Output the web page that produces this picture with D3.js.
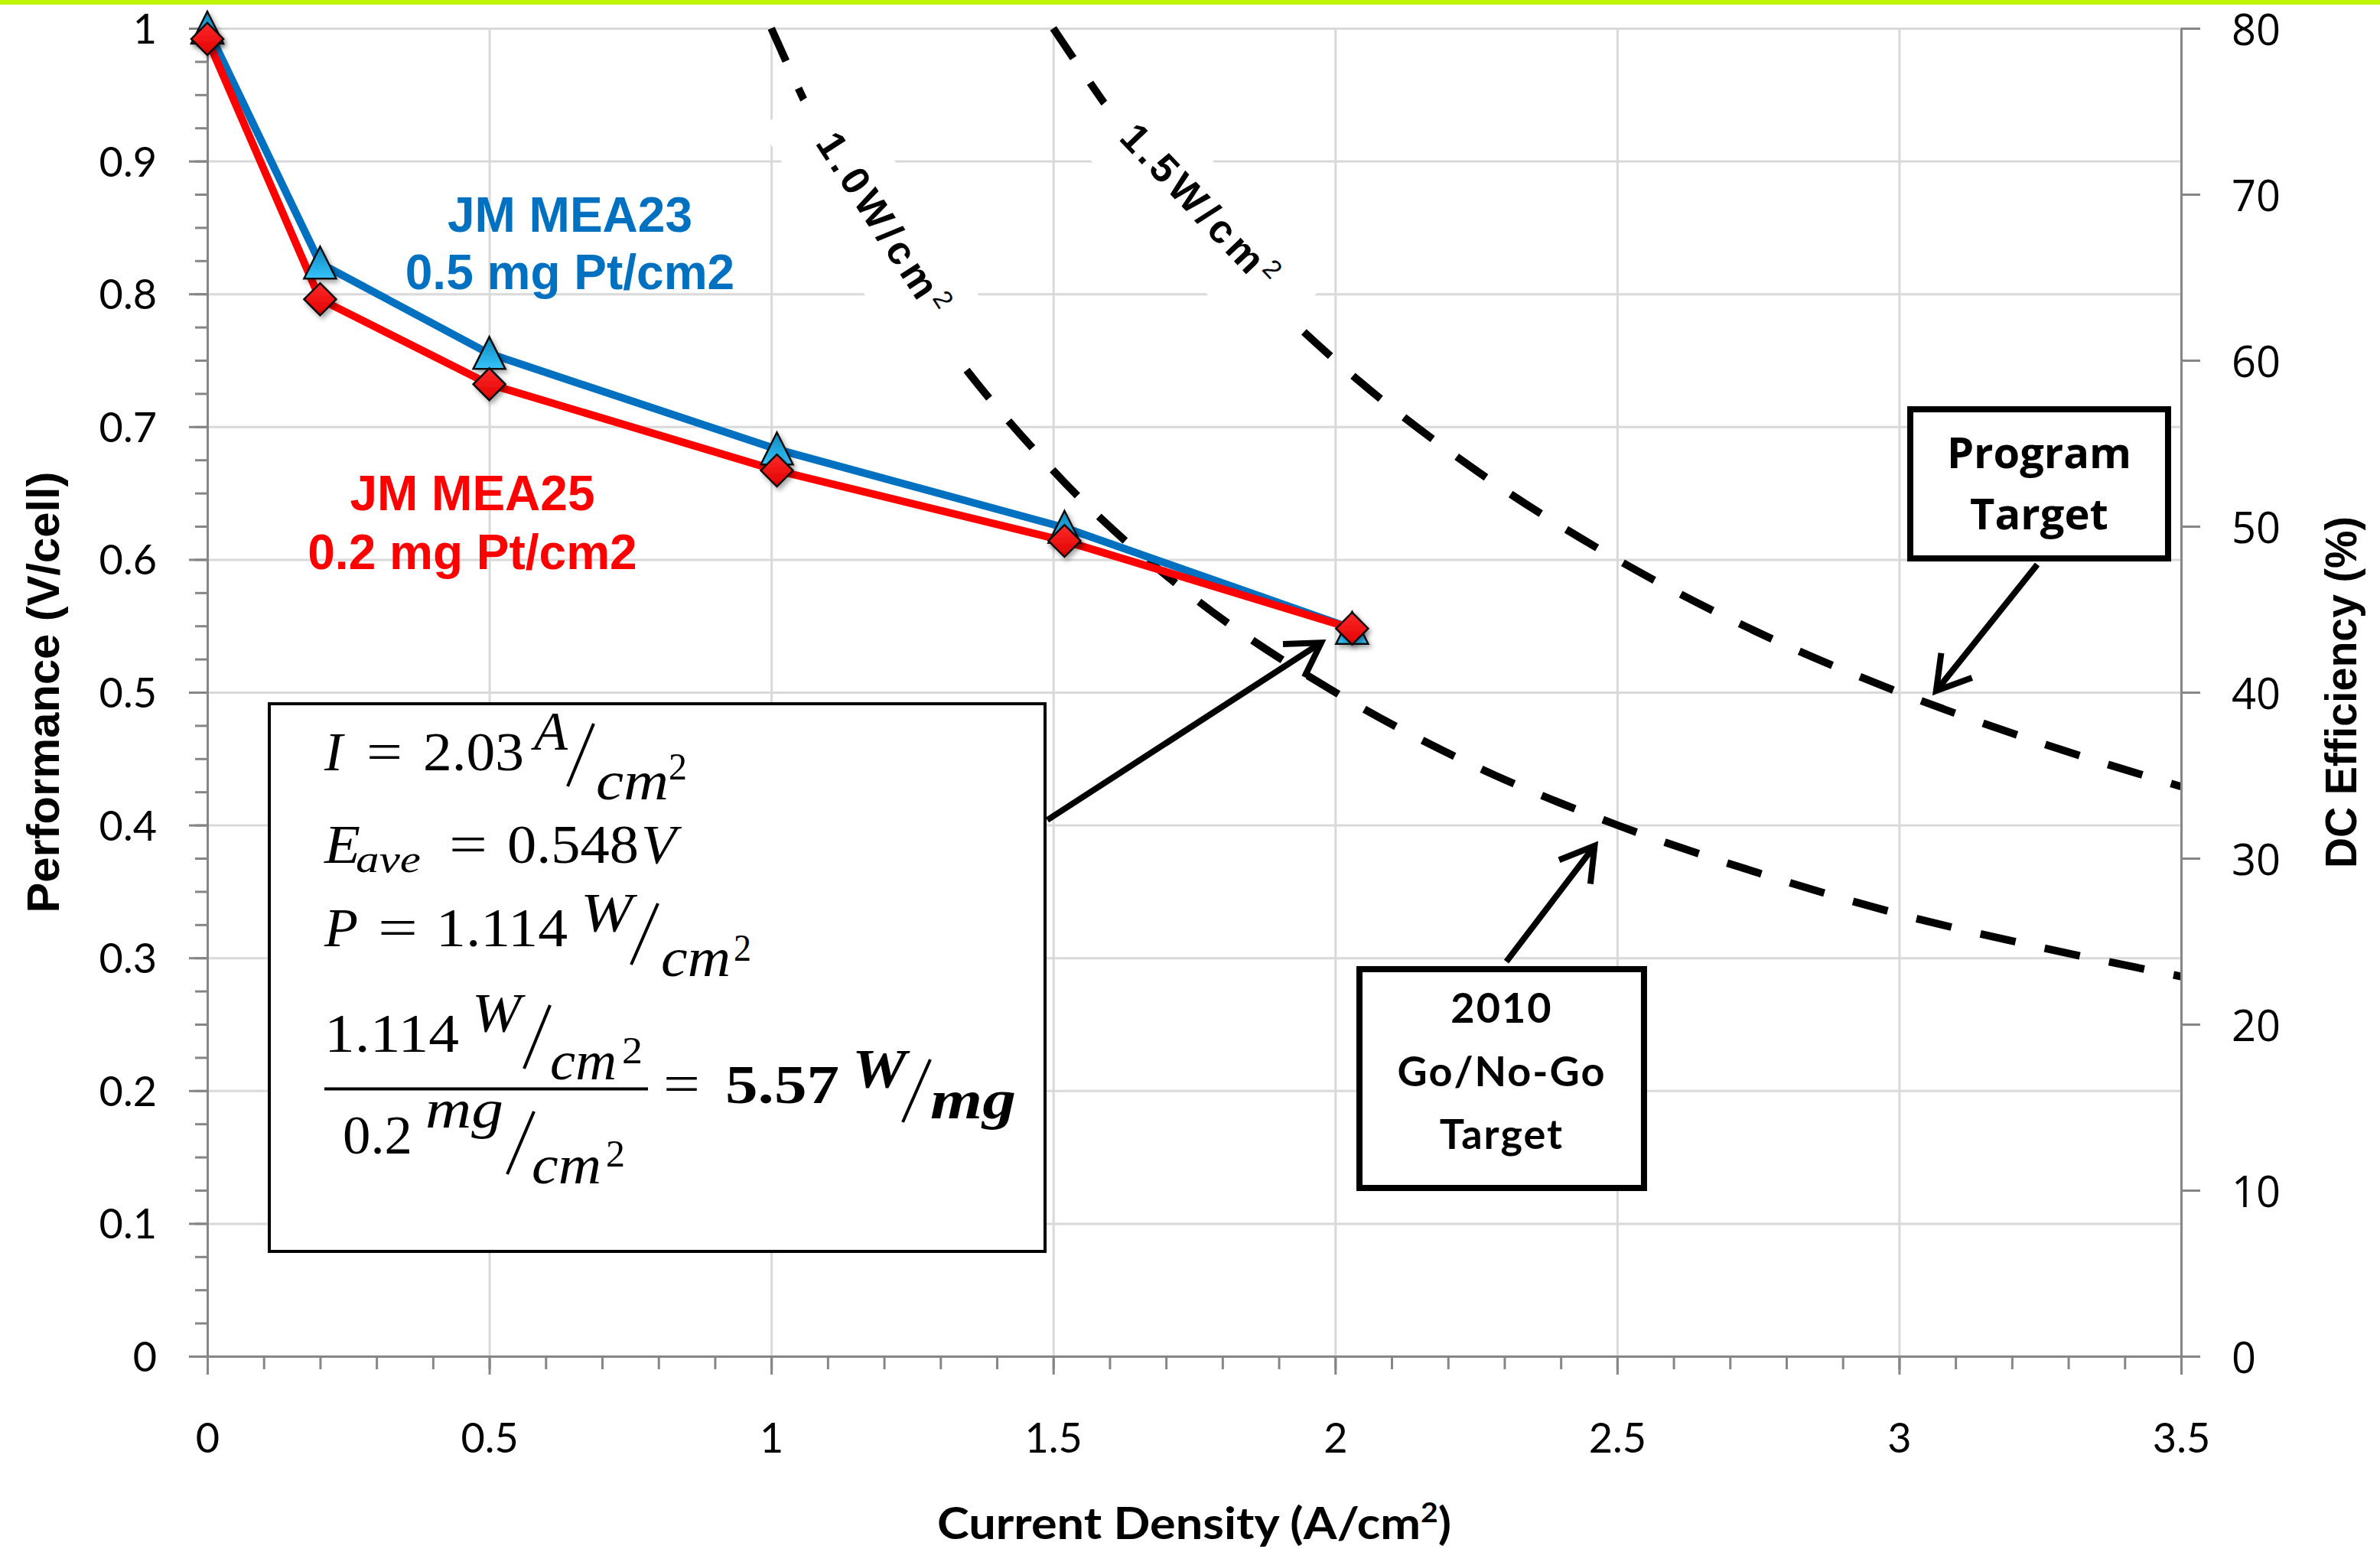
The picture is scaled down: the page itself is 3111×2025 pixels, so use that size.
<!DOCTYPE html>
<html>
<head>
<meta charset="utf-8">
<script src="https://cdn.jsdelivr.net/npm/d3@7"></script>
<style>
  html, body { margin: 0; padding: 0; background: #fff; }
  svg { display: block; }
</style>
</head>
<body>
<div id="chart"></div>
<script>
//** values
const currentDensity = [0, 0.2, 0.5, 1.01, 1.52, 2.03];
const voltsMEA23 = [1.0, 0.823, 0.755, 0.683, 0.624, 0.548];
const voltsMEA25 = [0.992, 0.796, 0.732, 0.667, 0.614, 0.548];

//** constant power lines (dashed)
const current10 = [1.0, 1.1, 1.25, 1.5, 1.75, 2.0, 2.25, 2.5, 2.75, 3.0, 3.25, 3.5];
const volts10 = [1.0, 0.909, 0.8, 0.667, 0.571, 0.5, 0.444, 0.4, 0.364, 0.333, 0.308, 0.286];
const current15 = [1.5, 1.65, 1.8, 2.0, 2.25, 2.5, 2.75, 3.0, 3.25, 3.5];
const volts15 = [1.0, 0.909, 0.833, 0.75, 0.667, 0.6, 0.545, 0.5, 0.462, 0.429];

//** ticks
const xTicks = [0, 0.5, 1, 1.5, 2, 2.5, 3, 3.5];
const yTicks = [0, 0.1, 0.2, 0.3, 0.4, 0.5, 0.6, 0.7, 0.8, 0.9, 1];
const efficiencyTicks = [0, 10, 20, 30, 40, 50, 60, 70, 80];

class PolarizationChart {
  constructor(settings) {
    this.ss = {};
    for (let m in settings) {
      this.ss[m] = settings[m];
    }
    this.w = this.ss.width - this.ss.margins.left - this.ss.margins.right;
    this.h = this.ss.height - this.ss.margins.top - this.ss.margins.bottom;
    this.createMainG();
    this.createDefs();
    this.createScales();
    this.createGrid();
    this.renderPowerLines();
    this.createAxis();
    this.renderSeries();
    this.renderNotes();
    this.renderTitles();
  }

  //** main container
  createMainG() {
    this.svg = d3.select(this.ss.node).append('svg')
      .attr('width', this.ss.width)
      .attr('height', this.ss.height);
    this.svg.append('rect')
      .attr('width', this.ss.width)
      .attr('height', this.ss.height)
      .attr('fill', '#fff');
    this.svg.append('rect')
      .attr('width', this.ss.width)
      .attr('height', 6)
      .attr('fill', '#bff500');
    this.g = this.svg.append('g')
      .attr('transform', 'translate(' + this.ss.margins.left + ',' + this.ss.margins.top + ')');
  }

  createDefs() {
    let defs = this.svg.append('defs');
    let tri = defs.append('linearGradient').attr('id', 'gradTri')
      .attr('x1', 0).attr('y1', 0).attr('x2', 0).attr('y2', 1);
    tri.append('stop').attr('offset', '0%').attr('stop-color', '#0b86bd');
    tri.append('stop').attr('offset', '100%').attr('stop-color', '#36c3fb');
    let dia = defs.append('linearGradient').attr('id', 'gradDia')
      .attr('x1', 0).attr('y1', 0).attr('x2', 0).attr('y2', 1);
    dia.append('stop').attr('offset', '0%').attr('stop-color', '#ff2a2a');
    dia.append('stop').attr('offset', '100%').attr('stop-color', '#e00000');
    let shadow = defs.append('filter').attr('id', 'shadow')
      .attr('x', '-50%').attr('y', '-50%').attr('width', '200%').attr('height', '200%');
    shadow.append('feDropShadow')
      .attr('dx', 3).attr('dy', 4).attr('stdDeviation', 3)
      .attr('flood-color', '#000').attr('flood-opacity', 0.35);
  }

  createScales() {
    this.x = d3.scaleLinear().domain([0, 3.5]).range([0, this.w]);
    this.y = d3.scaleLinear().domain([0, 1]).range([this.h, 0]);
    this.y2 = d3.scaleLinear().domain([0, 80]).range([this.h, 0]);
  }

  //** gridlines
  createGrid() {
    let gx = this.g.append('g')
      .attr('transform', 'translate(0,' + this.h + ')')
      .call(d3.axisBottom(this.x).tickValues(xTicks.slice(1)).tickSize(-this.h).tickFormat(''));
    let gy = this.g.append('g')
      .call(d3.axisLeft(this.y).tickValues(yTicks.slice(1)).tickSize(-this.w).tickFormat(''));
    [gx, gy].forEach(a => {
      a.select('.domain').remove();
      a.selectAll('line').attr('stroke', '#d9d9d9').attr('stroke-width', 3);
    });
  }

  renderPowerLines() {
    let line = d3.line()
      .x(d => this.x(d[0]))
      .y(d => this.y(d[1]))
      .curve(d3.curveMonotoneX);
    let curves = [d3.zip(current10, volts10), d3.zip(current15, volts15)];
    this.g.append('g').selectAll('path')
      .data(curves)
      .join('path')
      .attr('d', line)
      .attr('fill', 'none')
      .attr('stroke', '#000')
      .attr('stroke-width', 10)
      .attr('stroke-dasharray', '47 39');

    //** labels sitting on the curves, on white boxes
    let labels = [
      {num: '1.0W/cm', i: 1.2006, v: 0.852, rot: 57, bi: 1.1924, bv: 0.8497, brot: 58, len: 390, thick: 126},
      {num: '1.5W/cm', i: 1.7622, v: 0.8658, rot: 46.5, bi: 1.7527, bv: 0.8623, brot: 49, len: 370, thick: 120}
    ];
    let lg = this.g.append('g');
    labels.forEach(l => {
      lg.append('rect')
        .attr('x', -l.len / 2).attr('y', -l.thick / 2)
        .attr('width', l.len).attr('height', l.thick)
        .attr('fill', '#fff')
        .attr('transform', 'translate(' + this.x(l.bi) + ',' + this.y(l.bv) + ') rotate(' + l.brot + ')');
      let t = lg.append('text')
        .attr('transform', 'translate(' + this.x(l.i) + ',' + this.y(l.v) + ') rotate(' + l.rot + ')')
        .attr('text-anchor', 'middle')
        .attr('dy', '0.35em')
        .attr('font-family', "'Liberation Sans', Arial, sans-serif")
        .attr('font-weight', 'bold')
        .attr('font-size', 52)
        .attr('letter-spacing', 6)
        .attr('fill', '#000')
        .text(l.num);
      t.append('tspan').attr('font-size', 34).attr('font-weight', 'normal').attr('dy', -18).text('2');
    });
  }

  //** axes
  createAxis() {
    let axisColor = '#868686';
    let left = this.g.append('g')
      .call(d3.axisLeft(this.y).tickValues(yTicks).tickSize(24).tickSizeOuter(0).tickPadding(42)
        .tickFormat(d => String(+d.toFixed(1))));
    let leftMinor = this.g.append('g')
      .call(d3.axisLeft(this.y).tickValues(d3.range(0, 1.0001, 0.025)).tickSize(16).tickSizeOuter(0).tickFormat(''));
    let bottom = this.g.append('g')
      .attr('transform', 'translate(0,' + this.h + ')')
      .call(d3.axisBottom(this.x).tickValues(xTicks).tickSize(24).tickSizeOuter(0).tickPadding(64)
        .tickFormat(d => String(d)));
    let bottomMinor = this.g.append('g')
      .attr('transform', 'translate(0,' + this.h + ')')
      .call(d3.axisBottom(this.x).tickValues(d3.range(0, 3.5001, 0.1)).tickSize(17).tickSizeOuter(0).tickFormat(''));
    let right = this.g.append('g')
      .attr('transform', 'translate(' + this.w + ',0)')
      .call(d3.axisRight(this.y2).tickValues(efficiencyTicks).tickSize(25).tickSizeOuter(0).tickPadding(41));

    [left, leftMinor, bottom, bottomMinor, right].forEach(a => {
      a.select('.domain').attr('stroke', axisColor).attr('stroke-width', 3);
      a.selectAll('.tick line').attr('stroke', axisColor).attr('stroke-width', 3);
    });
    [left, bottom].forEach(a => {
      a.selectAll('text')
        .attr('font-family', "Lato, 'Liberation Sans', sans-serif")
        .attr('font-size', 54)
        .attr('fill', '#000');
    });
    left.selectAll('text').attr('dy', '0.36em');
    right.selectAll('text')
      .attr('font-family', "'Open Sans', sans-serif")
      .attr('font-size', 56)
      .attr('dy', '0.38em')
      .attr('fill', '#000');
  }

  //** the two MEA series
  renderSeries() {
    let tri = 'M0,-22L21,20L-21,20Z';
    let dia = 'M0,-21L21,0L0,21L-21,0Z';
    let series = [
      {volts: voltsMEA23, color: '#0070c0', fill: 'url(#gradTri)', shape: tri},
      {volts: voltsMEA25, color: '#ff0000', fill: 'url(#gradDia)', shape: dia}
    ];
    let line = d3.line()
      .x(d => this.x(d[0]))
      .y(d => this.y(d[1]));
    series.forEach(s => {
      this.g.append('path')
        .attr('d', line(d3.zip(currentDensity, s.volts)))
        .attr('fill', 'none')
        .attr('stroke', s.color)
        .attr('stroke-width', 10)
        .attr('stroke-linejoin', 'round');
    });
    series.forEach(s => {
      this.g.append('g').selectAll('path')
        .data(d3.zip(currentDensity, s.volts))
        .join('path')
        .attr('d', s.shape)
        .attr('transform', d => 'translate(' + this.x(d[0]) + ',' + this.y(d[1]) + ')')
        .attr('fill', s.fill)
        .attr('stroke', '#111')
        .attr('stroke-width', 2.5)
        .attr('stroke-linejoin', 'miter')
        .attr('filter', 'url(#shadow)');
    });
  }

  drawArrow(from, to) {
    let x1 = this.x(from[0]), y1 = this.y(from[1]);
    let x2 = this.x(to[0]), y2 = this.y(to[1]);
    let a = Math.atan2(y2 - y1, x2 - x1);
    let tx = x2 - 6 * Math.cos(a), ty = y2 - 6 * Math.sin(a);
    let arm = 50, spread = 31 * Math.PI / 180;
    let p1 = [tx - arm * Math.cos(a - spread), ty - arm * Math.sin(a - spread)];
    let p2 = [tx - arm * Math.cos(a + spread), ty - arm * Math.sin(a + spread)];
    this.g.append('line')
      .attr('x1', x1).attr('y1', y1).attr('x2', tx).attr('y2', ty)
      .attr('stroke', '#000').attr('stroke-width', 8);
    this.g.append('path')
      .attr('d', 'M' + p1 + 'L' + tx + ',' + ty + 'L' + p2)
      .attr('fill', 'none').attr('stroke', '#000').attr('stroke-width', 8)
      .attr('stroke-linejoin', 'miter');
  }

  drawBox(i0, v0, i1, v1, stroke) {
    let x0 = this.x(i0), y0 = this.y(v0), x1 = this.x(i1), y1 = this.y(v1);
    this.g.append('rect')
      .attr('x', x0 + stroke / 2).attr('y', y0 + stroke / 2)
      .attr('width', x1 - x0 - stroke).attr('height', y1 - y0 - stroke)
      .attr('fill', '#fff').attr('stroke', '#000').attr('stroke-width', stroke);
    return {x: x0, y: y0, cx: (x0 + x1) / 2};
  }

  //** text notes, boxes and arrows
  renderNotes() {
    let sans = "'Liberation Sans', Arial, sans-serif";
    let seriesNotes = [
      {lines: ['JM MEA23', '0.5 mg Pt/cm2'], i: 0.643, v: [0.847, 0.8036], color: '#0070c0'},
      {lines: ['JM MEA25', '0.2 mg Pt/cm2'], i: 0.470, v: [0.637, 0.593], color: '#ff0000'}
    ];
    seriesNotes.forEach(n => {
      n.lines.forEach((t, k) => {
        this.g.append('text')
          .attr('x', this.x(n.i)).attr('y', this.y(n.v[k]))
          .attr('text-anchor', 'middle')
          .attr('font-family', sans).attr('font-weight', 'bold').attr('font-size', 64)
          .attr('fill', n.color)
          .text(t);
      });
    });

    //** arrows
    this.drawArrow([1.4895, 0.4038], [1.982, 0.5392]);
    this.drawArrow([2.3035, 0.2972], [2.465, 0.3871]);
    this.drawArrow([3.245, 0.5962], [3.0605, 0.4983]);

    //** formula box
    let fb = this.drawBox(0.1072, 0.4925, 1.4882, 0.0778, 4);
    let fg = this.g.append('g').attr('transform', 'translate(' + fb.x + ',' + fb.y + ')');
    let pieces = [
      ['I', 74, 89, 72, 'i', 24], ['=', 129, 89, 72, '', 47], ['2.03', 203, 89, 72, '', 132],
      ['A', 348, 62, 72, 'i', 44], ['cm', 429, 127, 72, 'i', 95], ['2', 524, 101, 50, '', 24],
      ['E', 74, 210, 72, 'i', 47], ['ave', 115, 222, 50, 'i', 85], ['=', 237, 210, 72, '', 50],
      ['0.548', 313, 210, 72, '', 172], ['V', 488, 210, 72, 'i', 46],
      ['P', 74, 319, 72, 'i', 44], ['=', 144, 319, 72, '', 52], ['1.114', 220, 319, 72, '', 172],
      ['W', 409, 299, 72, 'i', 68], ['cm', 514, 358, 72, 'i', 91], ['2', 609, 338, 50, '', 23],
      ['1.114', 74, 457, 72, '', 176], ['W', 267, 430, 72, 'i', 64], ['cm', 369, 493, 72, 'i', 87],
      ['2', 463, 472, 50, '', 27],
      ['0.2', 98, 590, 72, '', 91], ['mg', 206, 556, 72, 'i', 102], ['cm', 345, 629, 72, 'i', 91],
      ['2', 442, 607, 50, '', 25],
      ['=', 517, 523, 72, '', 48], ['5.57', 598, 524, 72, 'b', 149],
      ['W', 764, 503, 72, 'bi', 71], ['mg', 866, 544, 72, 'bi', 112]
    ];
    pieces.forEach(p => {
      fg.append('text')
        .attr('x', p[1]).attr('y', p[2])
        .attr('font-family', "'Liberation Serif', 'DejaVu Serif', serif")
        .attr('font-size', p[3])
        .attr('font-style', p[4].indexOf('i') >= 0 ? 'italic' : 'normal')
        .attr('font-weight', p[4].indexOf('b') >= 0 ? 'bold' : 'normal')
        .attr('textLength', p[5])
        .attr('lengthAdjust', 'spacingAndGlyphs')
        .attr('fill', '#000')
        .text(p[0]);
    });
    let slashes = [[426, 28, 392, 110], [510, 263, 475, 343], [369, 396, 335, 479],
      [348, 535, 313, 617], [866, 467, 830, 549]];
    slashes.forEach(s => {
      fg.append('line')
        .attr('x1', s[0]).attr('y1', s[1]).attr('x2', s[2]).attr('y2', s[3])
        .attr('stroke', '#000').attr('stroke-width', 4);
    });
    fg.append('line')
      .attr('x1', 74).attr('y1', 505.5).attr('x2', 497).attr('y2', 505.5)
      .attr('stroke', '#000').attr('stroke-width', 4);

    //** target boxes
    let gb = this.drawBox(2.0376, 0.2938, 2.553, 0.1244, 8);
    ['2010', 'Go/No-Go', 'Target'].forEach((t, k) => {
      this.g.append('text')
        .attr('x', gb.cx).attr('y', gb.y + [74, 157, 239][k])
        .attr('text-anchor', 'middle')
        .attr('font-family', "Lato, 'Liberation Sans', sans-serif")
        .attr('font-weight', 'bold').attr('font-size', 54)
        .attr('letter-spacing', 2)
        .attr('fill', '#000')
        .text(t);
    });
    let pb = this.drawBox(3.0143, 0.7154, 3.4823, 0.5985, 8);
    ['Program', 'Target'].forEach((t, k) => {
      this.g.append('text')
        .attr('x', pb.cx).attr('y', pb.y + [81, 161][k])
        .attr('text-anchor', 'middle')
        .attr('font-family', "'Open Sans', sans-serif")
        .attr('font-weight', 'bold').attr('font-size', 56)
        .attr('fill', '#000')
        .text(t);
    });
  }

  //** axis titles
  renderTitles() {
    let sans = "'Liberation Sans', Arial, sans-serif";
    let xt = this.g.append('text')
      .attr('x', this.w / 2).attr('y', this.h + 239)
      .attr('text-anchor', 'middle')
      .attr('font-family', "Lato, 'Liberation Sans', sans-serif")
      .attr('font-weight', 'bold').attr('font-size', 58)
      .attr('textLength', 672).attr('lengthAdjust', 'spacingAndGlyphs')
      .attr('fill', '#000')
      .text('Current Density (A/cm');
    xt.append('tspan').attr('font-size', 36).attr('dy', -22).text('2');
    xt.append('tspan').attr('dy', 22).text(')');

    this.g.append('text')
      .attr('transform', 'translate(' + (77 - this.ss.margins.left) + ',' + this.h / 2 + ') rotate(-90)')
      .attr('text-anchor', 'middle')
      .attr('font-family', sans).attr('font-weight', 'bold').attr('font-size', 60)
      .attr('textLength', 577).attr('lengthAdjust', 'spacingAndGlyphs')
      .attr('fill', '#000')
      .text('Performance (V/cell)');

    this.g.append('text')
      .attr('transform', 'translate(' + (this.w + 229) + ',' + this.h / 2 + ') rotate(-90)')
      .attr('text-anchor', 'middle')
      .attr('font-family', sans).attr('font-weight', 'bold').attr('font-size', 58)
      .attr('textLength', 460).attr('lengthAdjust', 'spacingAndGlyphs')
      .attr('fill', '#000')
      .text('DC Efficiency (%)');
  }
}

new PolarizationChart({
  node: '#chart',
  width: 3111,
  height: 2025,
  margins: {top: 37, right: 260, bottom: 252, left: 271}
});
</script>
</body>
</html>
